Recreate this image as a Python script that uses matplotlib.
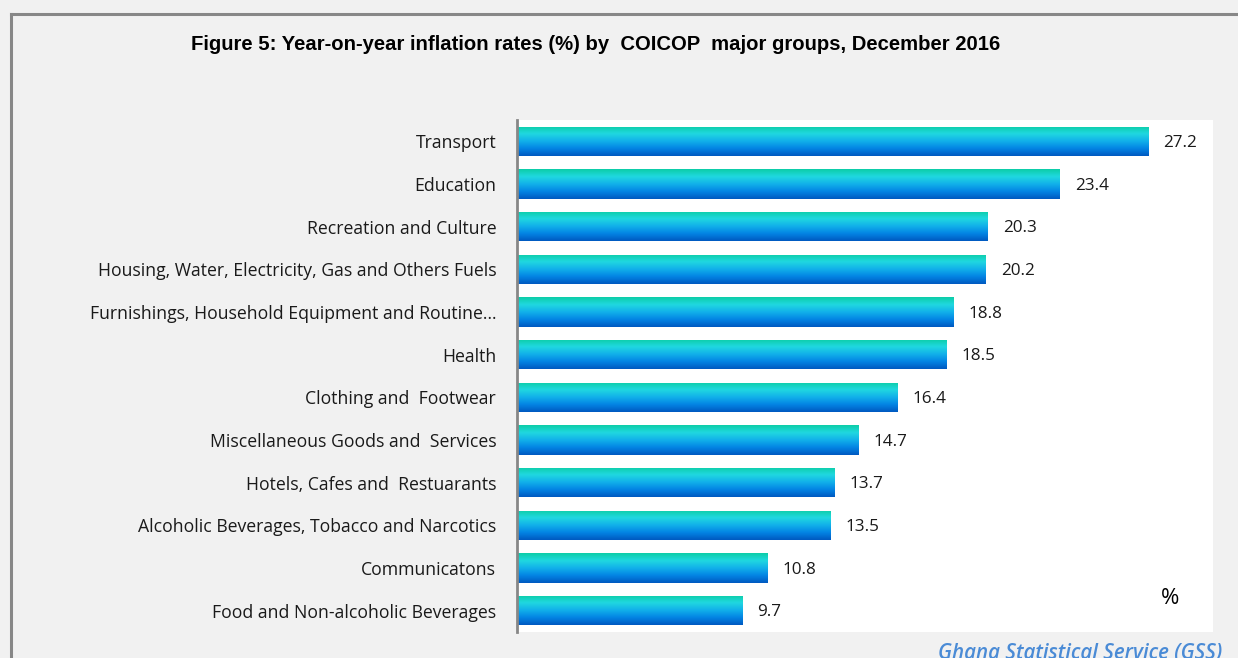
import numpy as np
import matplotlib
matplotlib.use("Agg")
import matplotlib.pyplot as plt
from matplotlib.colors import LinearSegmentedColormap
from matplotlib.lines import Line2D

# Data (top to bottom as shown)
categories = [
    "Transport",
    "Education",
    "Recreation and Culture",
    "Housing, Water, Electricity, Gas and Others Fuels",
    "Furnishings, Household Equipment and Routine\u2026",
    "Health",
    "Clothing and  Footwear",
    "Miscellaneous Goods and  Services",
    "Hotels, Cafes and  Restuarants",
    "Alcoholic Beverages, Tobacco and Narcotics",
    "Communicatons",
    "Food and Non-alcoholic Beverages",
]
values = [27.2, 23.4, 20.3, 20.2, 18.8, 18.5, 16.4, 14.7, 13.7, 13.5, 10.8, 9.7]

title = "Figure 5: Year-on-year inflation rates (%) by  COICOP  major groups, December 2016"
label_font = ["Open Sans", "DejaVu Sans"]

# Vertical gradient used inside each bar (top -> bottom)
grad = LinearSegmentedColormap.from_list(
    "bar", ["#0ccda6", "#20d8e0", "#12b0ea", "#0384e4", "#0058c0"])

fig = plt.figure(figsize=(12.38, 6.58), dpi=100)
fig.patch.set_facecolor("#f1f1f1")

# outer frame (only left and top edges are visible)
fx, fy = 10.5 / 1238, 1 - 13.5 / 658
fig.add_artist(Line2D([fx, fx], [0, fy], transform=fig.transFigure,
                      color="#878787", linewidth=2.2))
fig.add_artist(Line2D([fx, 1], [fy, fy], transform=fig.transFigure,
                      color="#878787", linewidth=2.2))

ax = fig.add_axes([517 / 1238, 1 - 632 / 658, (1213 - 517) / 1238, (632 - 120) / 658])
ax.set_facecolor("white")

y = np.arange(len(categories))
bars = ax.barh(y, values, height=0.68, color="none", edgecolor="none")
ax.set_xlim(0, 30)

g = np.linspace(0, 1, 256).reshape(-1, 1)
for bar, v in zip(bars, values):
    x0, y0 = bar.get_x(), bar.get_y()
    w, h = bar.get_width(), bar.get_height()
    im = ax.imshow(g, cmap=grad, aspect="auto", interpolation="bicubic",
                   extent=(x0, x0 + w, y0 + h, y0), zorder=2)
    im.set_clip_path(bar)
    ax.text(v + 0.65, y0 + h / 2 + 0.04, f"{v:.1f}", va="center", ha="left",
            fontsize=12.3, family=label_font, color="#1a1a1a")
ax.set_ylim(len(categories) - 0.5, -0.5)

ax.set_yticks(y)
ax.set_yticklabels(categories, fontsize=12.7, family=label_font, color="#1a1a1a")
ax.tick_params(axis="y", length=0, pad=15)
ax.set_xticks([])
for s in ["top", "right", "bottom"]:
    ax.spines[s].set_visible(False)
ax.spines["left"].set_color("#878787")
ax.spines["left"].set_linewidth(2)

ax.text(0.938, 0.065, "%", transform=ax.transAxes, fontsize=16,
        family=label_font, ha="center", va="center")

fig.text(596 / 1238, 1 - 45 / 658, title, ha="center", va="center",
         fontsize=14.6, fontweight="bold", family="Liberation Sans")
fig.text(1222 / 1238, 1 - 654 / 658, "Ghana Statistical Service (GSS)",
         ha="right", va="center", fontsize=14.8, style="italic",
         color="#4a8bd6", family=label_font, fontweight="semibold")

fig.savefig("out.png", dpi=100, facecolor=fig.get_facecolor())
